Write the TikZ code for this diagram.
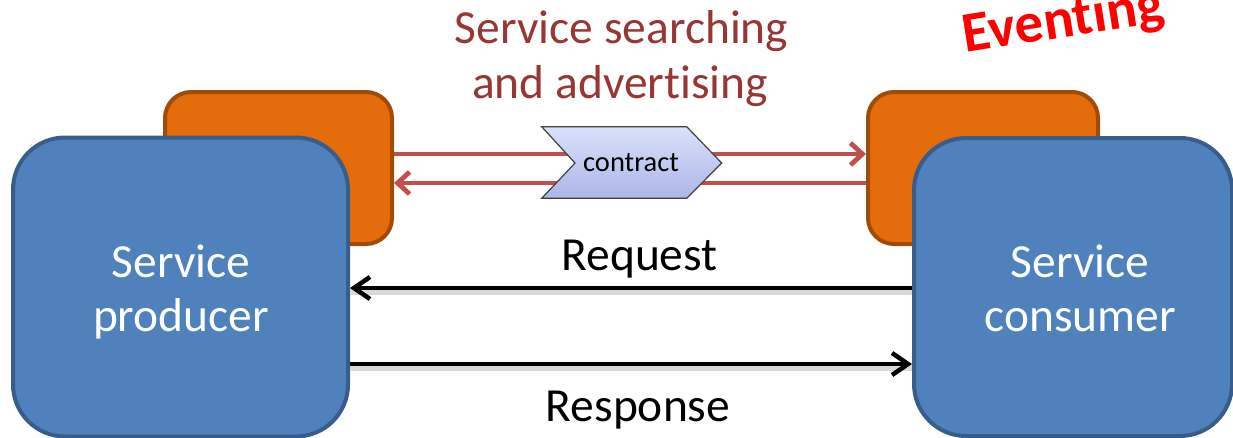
\documentclass[tikz,border=0pt]{standalone}
\usepackage{fontspec}
\setmainfont{Carlito}[Ligatures=NoCommon]
\usetikzlibrary{arrows.meta}
\definecolor{boxblue}{RGB}{79,129,189}
\definecolor{boxblueedge}{RGB}{56,93,138}
\definecolor{boxorange}{RGB}{228,108,10}
\definecolor{boxorangeedge}{RGB}{160,76,8}
\definecolor{linkred}{RGB}{192,80,77}
\definecolor{titlered}{RGB}{150,55,53}
\definecolor{chevtop}{RGB}{218,225,250}
\definecolor{chevbot}{RGB}{172,182,233}
\begin{document}
\begin{tikzpicture}[x=1pt,y=-1pt,
  orangebox/.style={draw=boxorangeedge, fill=boxorange, line width=4pt, rounded corners=26pt, inner sep=0pt},
  bluebox/.style={draw=boxblueedge, fill=boxblue, line width=4pt, rounded corners=52pt, inner sep=0pt},
  bigtext/.style={font=\fontsize{47.5}{56}\selectfont, inner sep=0pt},
  boxtext/.style={bigtext, text=white},
  titletext/.style={bigtext, text=titlered},
  redlink/.style={draw=linkred, line width=4.8pt, -{Straight Barb[length=12pt,width=22pt]}},
  blacklink/.style={draw=black, line width=4.5pt, -{Straight Barb[length=16pt,width=22pt]},
     preaction={draw=black!15, line width=6pt, -, transform canvas={yshift=-4pt}}},
  chevron/.style={draw=black!75, line width=1.2pt, top color=chevtop, bottom color=chevbot}
]
\useasboundingbox (0,0) rectangle (1233,437);
\clip (0,0) rectangle (1233,437);

% orange back boxes
\node[orangebox, minimum width=227pt, minimum height=152pt] (lo) at (278.5,168) {};
\node[orangebox, minimum width=230pt, minimum height=152pt] (ro) at (983,168) {};

% red links
\draw[redlink] ([yshift=14pt]lo.east) -- ([yshift=14pt]ro.west);
\draw[redlink] ([yshift=-15pt]ro.west) -- ([yshift=-15pt]lo.east);

% contract chevron
\path[chevron] (541.7,126.7) -- (686.7,126.7) -- (721.7,163) -- (686.7,198.3)
   -- (541.7,198.3) -- (575,163) -- cycle;
\node[font=\fontsize{28.5}{30}\selectfont, inner sep=0pt] (ct) at (631,163) {contract};

% blue front boxes
\node[bluebox, minimum width=335pt, minimum height=299pt] (lb) at (180.5,287) {};
\node[bluebox, minimum width=318pt, minimum height=298pt] (rb) at (1073,287) {};

\node[boxtext, anchor=base] (lb1) at (181,277) {Service};
\node[boxtext, anchor=base] (lb2) at (181,331) {producer};
\node[boxtext, anchor=base] (rb1) at (1080,277) {Service};
\node[boxtext, anchor=base] (rb2) at (1080,331) {consumer};

% black links
\draw[blacklink] ([yshift=-1pt]rb.west) -- ([yshift=-1pt]lb.east);
\draw[blacklink] ([yshift=-77pt]lb.east) -- ([yshift=-77pt]rb.west);

\node[bigtext, anchor=base] (req) at (639.5,270) {Request};
\node[bigtext, anchor=base] (resp) at (638,421) {Response};

% title
\node[titletext, anchor=base] (t1) at (621.5,43) {Service searching};
\node[titletext, anchor=base] (t2) at (620,98) {and advertising};

\node[font=\fontsize{57}{60}\selectfont\bfseries, text=red, rotate=9, anchor=base, inner sep=0pt] (ev) at (1066,37) {Eventing};
\end{tikzpicture}
\end{document}
